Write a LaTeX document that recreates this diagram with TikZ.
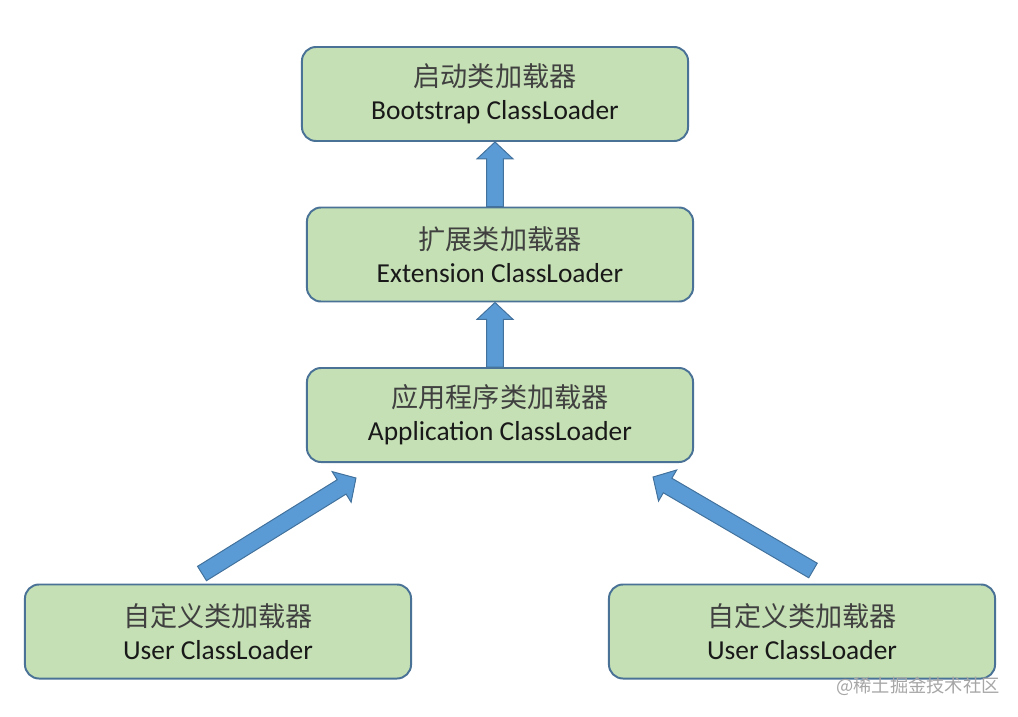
\documentclass[tikz,border=0pt]{standalone}
\usepackage{fontspec}
\setmainfont{Carlito}
\newfontfamily\cjk{Noto Sans CJK SC}
\usetikzlibrary{positioning, calc}

\definecolor{boxgreen}{HTML}{C5E0B4}
\definecolor{boxedge}{HTML}{4A7296}
\definecolor{arrowblue}{HTML}{5B9BD5}
\definecolor{arrowedge}{HTML}{41719C}

% block arrow from tail #1 to tip #2
\newcommand{\blockarrow}[2]{%
  \path ($(#2)!12pt!(#1)$) coordinate (hb);
  \filldraw[arrow body] ($(#1)!6pt!90:(#2)$) -- ($(hb)!6pt!90:(#2)$)
    -- ($(hb)!12.8pt!90:(#2)$) -- (#2) -- ($(hb)!12.8pt!-90:(#2)$)
    -- ($(hb)!6pt!-90:(#2)$) -- ($(#1)!6pt!-90:(#2)$) -- cycle;}

\begin{document}
\begin{tikzpicture}[x=0.025cm, y=-0.025cm,
    loader/.style={draw=boxedge, fill=boxgreen, line width=1.4pt, rounded corners=10pt,
      minimum width=9.65cm, minimum height=2.35cm, align=center,
      font=\fontsize{19.5}{23.5}\selectfont, text=black!90},
    arrow body/.style={fill=arrowblue, draw=arrowedge, line width=0.7pt, line join=miter}
]
\useasboundingbox (0,0) rectangle (1018,716);

% loaders
\node (boot) [loader] at (495,94) {{\cjk\fontsize{19.3}{23.5}\selectfont\color{black!75}启动类加载器}\\Bootstrap ClassLoader};
\node (ext) [loader] at (500,254.5) {{\cjk\fontsize{19.3}{23.5}\selectfont\color{black!75}扩展类加载器}\\Extension ClassLoader};
\node (app) [loader] at (500,415) {{\cjk\fontsize{19.3}{23.5}\selectfont\color{black!75}应用程序类加载器}\\Application ClassLoader};
\node (user1) [loader] at (218,631.5) {{\cjk\fontsize{19.3}{23.5}\selectfont\color{black!75}自定义类加载器}\\User ClassLoader};
\node (user2) [loader] at (802,631.5) {{\cjk\fontsize{19.3}{23.5}\selectfont\color{black!75}自定义类加载器}\\User ClassLoader};

% arrow ends
\coordinate (u1tail) at ($(user1.north)+(-16,-10)$);
\coordinate (u1tip) at ($(app.south west)+(50,15)$);
\coordinate (u2tail) at ($(user2.north)+(11,-13)$);
\coordinate (u2tip) at ($(app.south east)+(-41,14)$);

% delegation arrows
\blockarrow{boot.south |- ext.north}{boot.south}
\blockarrow{boot.south |- app.north}{boot.south |- ext.south}
\blockarrow{u1tail}{u1tip}
\blockarrow{u2tail}{u2tip}

\node (mark) at (918,686) [text=black!35, font=\cjk\fontsize{13}{15}\selectfont] {@稀土掘金技术社区};
\end{tikzpicture}
\end{document}
